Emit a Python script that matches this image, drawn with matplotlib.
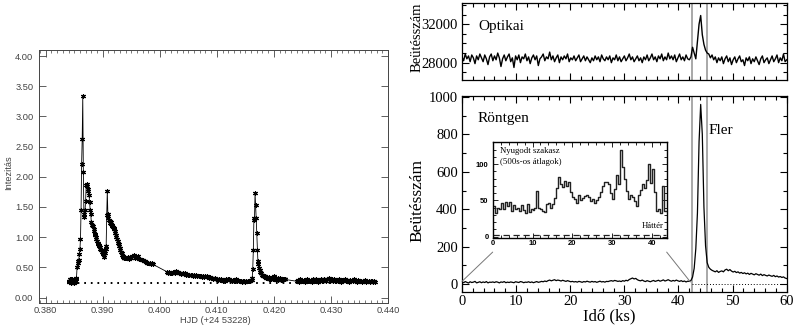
import numpy as np
import matplotlib.pyplot as plt
from matplotlib.ticker import MultipleLocator, FormatStrFormatter
from matplotlib.patches import ConnectionPatch

plt.rcParams['font.family'] = ['Liberation Serif', 'DejaVu Serif']

# ---- left panel: optical light curve, HJD - 2453228 ----
# each segment: (first HJD, sampling step, intensities)
seg_a1 = [0.28, 0.25, 0.30, 0.27, 0.31, 0.24, 0.30, 0.26, 0.29, 0.25,
          0.24, 0.28, 0.26, 0.30, 0.33, 0.50, 0.60, 0.57, 0.63, 0.72,
          0.80, 0.97, 1.45, 2.22, 2.63, 3.33, 2.08, 1.38, 1.34, 1.45,
          1.60, 1.87, 1.88, 1.84, 1.80, 1.76, 1.70, 1.58, 1.45, 1.38,
          1.25, 1.21, 1.20, 1.18, 1.14, 1.10, 1.06, 1.03, 1.00, 0.97,
          0.94, 0.91, 0.89, 0.87, 0.85, 0.83, 0.81, 0.79, 0.78, 0.76,
          0.74, 0.72, 0.70, 0.68, 0.73, 0.80, 0.85, 1.37, 1.77, 1.38,
          1.32, 1.28, 1.26, 1.24, 1.25, 1.22, 1.20, 1.18, 1.17, 1.15,
          1.13, 1.10, 1.07, 1.04, 1.00, 0.97, 0.94, 0.91, 0.88, 0.85,
          0.82, 0.79, 0.76, 0.73, 0.71, 0.69, 0.67, 0.66, 0.65, 0.66]
seg_a2 = [0.66, 0.65, 0.67, 0.64, 0.68, 0.66, 0.69, 0.70, 0.65, 0.68,
          0.66, 0.69, 0.64, 0.64, 0.62, 0.63, 0.61, 0.60, 0.59, 0.58,
          0.58, 0.57, 0.56, 0.57, 0.55]
seg_b1 = [0.43, 0.41, 0.42, 0.40, 0.41, 0.40, 0.42, 0.41, 0.44, 0.43,
          0.42, 0.40, 0.41, 0.39, 0.40, 0.39, 0.40, 0.38, 0.39, 0.37,
          0.38, 0.37, 0.38, 0.36, 0.37, 0.36, 0.37, 0.35, 0.36, 0.35,
          0.36, 0.34, 0.35, 0.34, 0.36, 0.35, 0.34, 0.33, 0.34, 0.32,
          0.33, 0.31, 0.32, 0.30, 0.31, 0.29, 0.30, 0.29, 0.30, 0.28,
          0.29, 0.28, 0.30, 0.29, 0.31, 0.30, 0.29, 0.28, 0.29, 0.27,
          0.28, 0.30, 0.29, 0.28, 0.27, 0.28, 0.26, 0.27, 0.28, 0.26,
          0.27, 0.28, 0.27, 0.28, 0.29]
seg_b2 = [0.29, 0.32, 0.48, 0.79, 1.31, 1.28, 1.73, 1.53, 1.31, 1.07,
          0.79, 0.60, 0.55, 0.49, 0.45, 0.43, 0.40, 0.41, 0.38, 0.37,
          0.36, 0.35, 0.36, 0.34, 0.35, 0.33, 0.34, 0.32, 0.33, 0.32,
          0.34, 0.31, 0.32, 0.30, 0.31, 0.33, 0.32, 0.30, 0.31, 0.35,
          0.33, 0.30, 0.32, 0.29, 0.31, 0.30, 0.32, 0.29, 0.31, 0.30,
          0.32, 0.29, 0.30, 0.31, 0.29, 0.30, 0.31, 0.30, 0.31, 0.30]
seg_c = [0.27, 0.29, 0.26, 0.30, 0.28, 0.27, 0.29, 0.26, 0.28, 0.30,
         0.27, 0.29, 0.28, 0.26, 0.30, 0.28, 0.27, 0.31, 0.28, 0.26,
         0.29, 0.30, 0.27, 0.28, 0.31, 0.29, 0.27, 0.30, 0.32, 0.28,
         0.29, 0.31, 0.27, 0.30, 0.28, 0.29, 0.27, 0.30, 0.28, 0.26,
         0.29, 0.28, 0.30, 0.27, 0.29, 0.28, 0.26, 0.29, 0.27, 0.28,
         0.30, 0.27, 0.28, 0.26, 0.29, 0.27, 0.28, 0.26, 0.28, 0.27,
         0.29, 0.26, 0.27, 0.28, 0.25, 0.27, 0.28, 0.26, 0.27, 0.25]
segments = [(0.3840, 0.0001, seg_a1), (0.3940, 0.0002, seg_a2),
            (0.4012, 0.0002, seg_b1), (0.4161, 0.0001, seg_b2),
            (0.4240, 0.0002, seg_c)]
base_level, base_start, base_end = 0.235, 0.3845, 0.4375

# ---- right panels: time in ks, sampled every 0.3 ks ----
step_ks = 0.3
optical = [28600, 28200, 28900, 28400, 28700, 28100, 28800, 28500, 27900, 28700,
           28300, 28900, 28500, 28100, 28800, 28400, 27800, 28600, 28900, 28200,
           28700, 28300, 29000, 28500, 27600, 28400, 28800, 28200, 28600, 28900,
           28100, 28500, 27500, 28700, 28300, 28800, 28000, 28600, 28400, 28900,
           28200, 28600, 27900, 28500, 28800, 28300, 28700, 27700, 28400, 28600,
           28900, 28200, 28600, 28400, 29100, 28300, 28700, 28100, 28500, 28800,
           28000, 28600, 28300, 28700, 28400, 28900, 28100, 28500, 28300, 28700,
           28200, 28500, 28800, 28100, 28400, 28700, 28200, 28600, 28300, 28000,
           28500, 28200, 28700, 28300, 28600, 28100, 28800, 28400, 28200, 28600,
           28300, 28700, 28000, 28500, 28300, 28800, 28200, 28600, 28100, 28400,
           28700, 28200, 28500, 28900, 28300, 28600, 28100, 28400, 28700, 28200,
           28500, 28000, 28600, 28300, 28800, 28200, 28500, 28900, 28300, 28600,
           28100, 28700, 28400, 28900, 28200, 28600, 28300, 29000, 28400, 28700,
           28300, 28800, 28100, 28500, 28900, 28300, 28600, 28200, 28800, 28400,
           28300, 28600, 29600, 29000, 28400, 30200, 32000, 32900, 30900, 29900,
           29300, 29000, 28900, 28500, 28800, 28300, 28600, 28000, 28500, 28200,
           28600, 27900, 28400, 28700, 28100, 28500, 27800, 28300, 28600, 28000,
           28400, 28700, 28100, 28300, 27700, 28500, 28200, 28600, 27900, 28400,
           28100, 28600, 28200, 27800, 28400, 28700, 28000, 28300, 28500, 27900,
           28300, 28700, 28100, 28400, 28800, 28000, 28500, 28200, 28900, 28100,
           28300]
xray = [12, 8, 14, 10, 6, 13, 9, 11, 15, 7,
        10, 13, 8, 12, 9, 14, 7, 11, 10, 12,
        9, 13, 11, 7, 12, 10, 14, 8, 11, 9,
        12, 10, 8, 13, 11, 9, 14, 12, 8, 11,
        10, 13, 9, 12, 8, 11, 14, 10, 12, 15,
        13, 17, 14, 19, 22, 18, 21, 24, 19, 22,
        20, 17, 21, 18, 15, 19, 16, 13, 15, 12,
        14, 11, 15, 13, 10, 14, 12, 16, 13, 11,
        15, 12, 14, 10, 13, 16, 12, 14, 11, 15,
        14, 17, 19, 16, 20, 18, 15, 17, 14, 19,
        16, 21, 18, 25, 29, 33, 28, 31, 24, 20,
        18, 22, 17, 14, 19, 16, 13, 17, 20, 15,
        18, 21, 16, 19, 23, 17, 20, 24, 19, 16,
        20, 17, 22, 18, 15, 19, 14, 17, 12, 16,
        15, 20, 38, 85, 190, 380, 760, 960, 800, 412,
        205, 115, 90, 80, 74, 70, 66, 72, 63, 68,
        71, 66, 76, 80, 72, 78, 70, 65, 69, 62,
        66, 59, 63, 57, 61, 55, 59, 52, 58, 54,
        50, 56, 52, 48, 54, 46, 51, 47, 44, 49,
        45, 42, 47, 40, 44, 38, 41, 36, 39, 33,
        30]
flare_window = [42.5, 45.2]

# inset: quiet phase, 500 s averages (bin starts every 0.5 ks)
quiet_bin = 0.5
quiet = [42, 33, 40, 38, 46, 38, 48, 42, 48, 36,
         44, 38, 40, 35, 44, 37, 32, 45, 34, 38,
         37, 40, 63, 40, 38, 35, 34, 45, 46, 40,
         45, 53, 67, 82, 72, 68, 77, 70, 75, 62,
         55, 52, 47, 58, 50, 53, 56, 58, 54, 49,
         52, 46, 50, 55, 62, 70, 76, 75, 72, 60,
         52, 66, 85, 72, 120, 96, 80, 63, 52, 58,
         55, 49, 42, 57, 64, 73, 67, 78, 100, 74,
         94, 62, 36, 38, 33, 70, 35]
background = 2.5

# ---------------------------------------------------------------
fig = plt.figure(figsize=(7.93, 3.30), dpi=100)

# left panel
gray = '#444444'
axL = fig.add_axes([0.0492, 0.0818, 0.4401, 0.7667])
hjd = np.concatenate([t0 + dt * np.arange(len(v)) for t0, dt, v in segments])
flux = np.concatenate([v for _, _, v in segments])
axL.plot(hjd, flux, color='k', lw=0.6, marker=(6, 2, 0), ms=3.6, mew=0.8)
axL.hlines(base_level, base_start, base_end, colors='k', lw=1.4,
           linestyles=(0, (0.9, 2.5)))
axL.set_xlim(0.37883, 0.44001)
axL.set_ylim(-0.09, 4.10)
axL.xaxis.set_major_locator(MultipleLocator(0.01))
axL.xaxis.set_minor_locator(MultipleLocator(0.001))
axL.yaxis.set_major_locator(MultipleLocator(0.5))
axL.xaxis.set_major_formatter(FormatStrFormatter('%.3f'))
axL.yaxis.set_major_formatter(FormatStrFormatter('%.2f'))
axL.tick_params(which='both', direction='in', top=True, right=True,
                color=gray, labelsize=6.7, labelcolor=gray,
                labelfontfamily='Liberation Sans')
axL.tick_params(which='major', length=5, width=0.6)
axL.tick_params(which='minor', length=2.5, width=0.5)
axL.tick_params(axis='x', pad=2)
axL.tick_params(axis='y', pad=4)
for s in axL.spines.values():
    s.set_color(gray)
    s.set_linewidth(0.7)
fig.text(0.271, 0.030, 'HJD (+24 53228)', ha='center', va='center',
         fontsize=6.7, color=gray, family='Liberation Sans')
fig.text(0.0107, 0.478, 'Intezitás', ha='center', va='center', rotation=90,
         fontsize=6.7, color=gray, family='Liberation Sans')

# right panels
ks = step_ks * np.arange(len(optical))
axT = fig.add_axes([0.5826, 0.7576, 0.4095, 0.2333])
axB = fig.add_axes([0.5826, 0.1161, 0.4095, 0.5930])

axT.plot(ks, optical, color='k', lw=1.0)
axT.set_ylim(26200, 34200)
axT.yaxis.set_minor_locator(MultipleLocator(1000))
axT.set_yticks([28000, 32000])
axT.text(3.1, 31770, 'Optikai', fontsize=11, va='center')

axB.plot(ks, xray, color='k', lw=0.9)
axB.hlines(0, flare_window[0], 60, colors='k', lw=0.7, linestyles=(0, (1, 2)))
axB.set_ylim(-40, 1005)
axB.yaxis.set_major_locator(MultipleLocator(200))
axB.yaxis.set_minor_locator(MultipleLocator(100))
axB.text(2.8, 883, 'Röntgen', fontsize=11, va='center')
axB.text(45.5, 821, 'Fler', fontsize=11, va='center')

for ax in (axT, axB):
    ax.set_xlim(0, 60)
    ax.xaxis.set_major_locator(MultipleLocator(10))
    ax.xaxis.set_minor_locator(MultipleLocator(2))
    for x in flare_window:
        ax.axvline(x, color='#999999', lw=1.2, zorder=1)
    ax.tick_params(which='both', direction='in', top=True, right=True,
                   labelsize=10.5, width=0.8)
    ax.tick_params(which='major', length=5)
    ax.tick_params(which='minor', length=3)
    ax.tick_params(axis='y', pad=3)
    ax.tick_params(axis='x', pad=2.5)
    for s in ax.spines.values():
        s.set_linewidth(0.9)
axT.tick_params(labelbottom=False)

fig.text(0.768, 0.040, 'Idő (ks)', ha='center', va='center', fontsize=12)
fig.text(0.5265, 0.392, 'Beütésszám', ha='center', va='center',
         rotation=90, fontsize=12.5)
fig.text(0.5265, 0.886, 'Beütésszám', ha='center', va='center',
         rotation=90, fontsize=10.5)

# inset
axI = fig.add_axes([0.6213, 0.2797, 0.2194, 0.2909])
edges = quiet_bin * np.arange(len(quiet) + 1)
axI.step(edges, quiet + [quiet[-1]], where='post', color='#222222', lw=1.0)
axI.hlines(background, 0, edges[-1], colors='#222222', lw=0.9,
           linestyles=(0, (5, 3)))
axI.set_xlim(0, 43.7)
axI.set_ylim(-1.5, 131)
axI.xaxis.set_major_locator(MultipleLocator(10))
axI.xaxis.set_minor_locator(MultipleLocator(2))
axI.yaxis.set_major_locator(MultipleLocator(50))
axI.yaxis.set_minor_locator(MultipleLocator(10))
axI.tick_params(which='both', direction='in', top=True, right=True,
                labelsize=5.5, labelfontfamily='Liberation Sans', width=0.6)
axI.tick_params(which='major', length=3.5)
axI.tick_params(which='minor', length=2)
axI.tick_params(axis='x', pad=2)
axI.tick_params(axis='y', pad=3)
for lab in axI.get_xticklabels() + axI.get_yticklabels():
    lab.set_fontweight('bold')
for s in axI.spines.values():
    s.set_linewidth(1.0)
axI.text(0.042, 0.95, 'Nyugodt szakasz\n(500s-os átlagok)', transform=axI.transAxes,
         fontsize=6.3, va='top', ha='left', linespacing=1.5)
axI.text(0.98, 0.12, 'Háttér', transform=axI.transAxes, fontsize=6.3,
         va='center', ha='right')

for xa, xb in ((0, (0, 15)), (1, (42.2, 12))):
    con = ConnectionPatch(xyA=(xa, -0.15), coordsA=axI.transAxes,
                          xyB=xb, coordsB=axB.transData,
                          color='#777777', lw=0.7)
    fig.add_artist(con)

fig.savefig('out.png', dpi=100)
